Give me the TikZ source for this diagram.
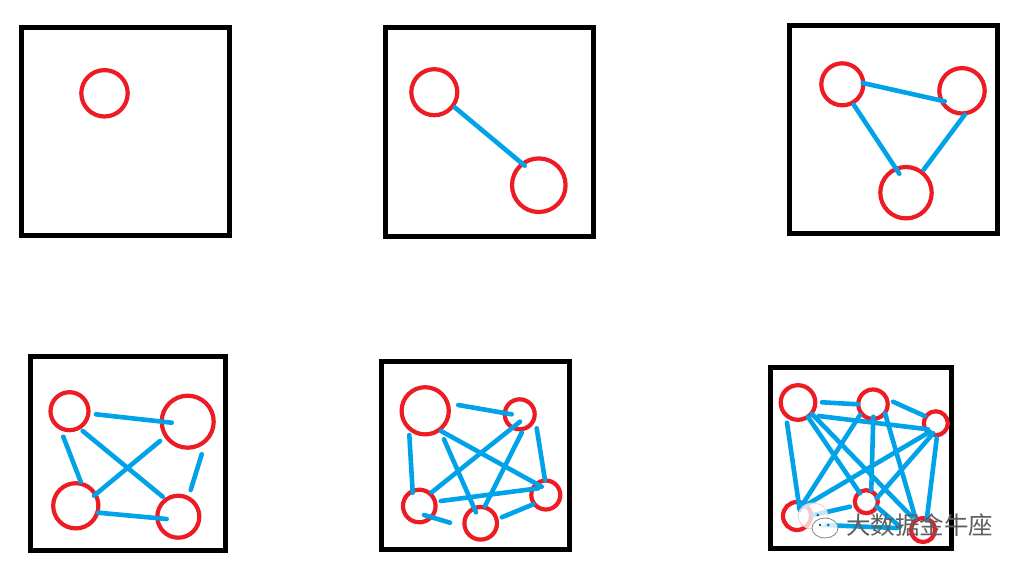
\documentclass[tikz,border=0pt]{standalone}
\usepackage{fontspec}
\newfontfamily\cjkfont{Noto Sans CJK SC}
\definecolor{nodered}{RGB}{237,28,36}
\definecolor{edgeblue}{RGB}{0,162,232}
\definecolor{wmgray}{RGB}{95,95,95}
\tikzset{
  panel/.style={draw=black, line width=5pt},
  vtx/.style={circle, draw=nodered, line width=4.2pt, inner sep=0pt, minimum size=#1},
  link/.style={draw=edgeblue, line width=4.6pt, line cap=round},
}
\newcommand\lk[4]{\draw[link] ([shift={(#2)}]#1.center) -- ([shift={(#4)}]#3.center);}
\begin{document}
\begin{tikzpicture}[x=1pt,y=-1pt]
\useasboundingbox[fill=white] (0,0) rectangle (1028,571);

% ---------- panels ----------
\draw[panel] (21.7,27.5) rectangle (229.7,235.8);
\draw[panel] (385.5,27.5) rectangle (593.8,236.8);
\draw[panel] (789.5,25.5) rectangle (997.8,233.8);
\draw[panel] (30,356) rectangle (225,550);
\draw[panel] (381.5,361) rectangle (569,549);
\draw[panel] (770,367) rectangle (951,548);

% ---------- panel 1 ----------
\node[vtx=46.4pt] (p1a) at (104.5,93.3) {};

% ---------- panel 2 ----------
\node[vtx=46pt] (p2a) at (434.3,92.2) {};
\node[vtx=53.6pt] (p2b) at (538.8,185.2) {};
\lk{p2a}{20.4,15.1}{p2b}{-14.1,-19.5}

% ---------- panel 3 ----------
\node[vtx=42pt] (p3a) at (842.3,84.3) {};
\node[vtx=45.4pt] (p3b) at (962,90.8) {};
\node[vtx=51.4pt] (p3c) at (906,192.7) {};
\lk{p3a}{20.4,-1.3}{p3b}{-17.3,10.5}
\lk{p3a}{11.4,20.4}{p3c}{-6.7,-19}
\lk{p3b}{2.7,23.9}{p3c}{17.7,-23}

% ---------- panel 4 ----------
\node[vtx=38pt] (p4a) at (69.5,411.2) {};
\node[vtx=52pt] (p4b) at (187.7,421.7) {};
\node[vtx=45.2pt] (p4c) at (75.8,505.8) {};
\node[vtx=42pt] (p4d) at (178.3,516.7) {};
\lk{p4a}{26.5,3.1}{p4b}{-16,1}
\lk{p4a}{-6.2,25.5}{p4c}{4.9,-24.1}
\lk{p4a}{13.2,19.8}{p4d}{-15.6,-20}
\lk{p4b}{-27.7,19.3}{p4c}{18.2,-10.1}
\lk{p4b}{14,32.6}{p4d}{12.4,-26.7}
\lk{p4c}{22.5,6.9}{p4d}{-11.6,2.3}

% ---------- panel 5 ----------
\node[vtx=47.2pt] (p5p) at (425.2,410.8) {};
\node[vtx=30pt] (p5q) at (519.7,414.3) {};
\node[vtx=29pt] (p5r) at (545.8,495) {};
\node[vtx=32.6pt] (p5s) at (419.3,506) {};
\node[vtx=32.6pt] (p5t) at (480.7,523.3) {};
\lk{p5p}{33.1,-5.8}{p5q}{-8,0}
\lk{p5p}{-15.9,24.2}{p5s}{-6.6,-13.3}
\lk{p5p}{15.8,20.2}{p5r}{-4.1,-8.3}
\lk{p5p}{18.8,28.5}{p5t}{-4.7,-11}
\lk{p5q}{0.3,7.4}{p5s}{12.4,-13.7}
\lk{p5q}{2,18.4}{p5t}{4.3,-17.3}
\lk{p5q}{17,14}{p5r}{-0.8,-15}
\lk{p5s}{21.4,-5}{p5r}{-7.5,-6.7}
\lk{p5s}{4.7,9}{p5t}{-30.7,-0.6}
\lk{p5t}{21,-6}{p5r}{-12.5,9.3}

% ---------- panel 6 ----------
\node[vtx=34.6pt] (p6a) at (798,402.5) {};
\node[vtx=29.4pt] (p6b) at (873,404.2) {};
\node[vtx=24pt] (p6c) at (935.8,423.3) {};
\node[vtx=23pt] (p6d) at (866.3,501.7) {};
\node[vtx=28pt] (p6e) at (797,516) {};
\node[vtx=24pt] (p6f) at (923,530) {};
\lk{p6a}{24,-0.2}{p6b}{-15,0.1}
\lk{p6b}{20,-2.5}{p6c}{-11.1,-7.3}
\lk{p6a}{20.7,13.5}{p6c}{-7.8,6}
\lk{p6a}{-11,20.2}{p6e}{2.7,-6}
\lk{p6a}{10,14.5}{p6d}{-6.3,-8.4}
\lk{p6a}{14,11.5}{p6f}{-11.3,-13.3}
\lk{p6b}{-13,10.8}{p6e}{3,-7.7}
\lk{p6b}{0.3,12.5}{p6d}{5,-11.7}
\lk{p6b}{12,9}{p6f}{-8,-13.3}
\lk{p6c}{-5.8,8.4}{p6e}{6.3,-9.3}
\lk{p6c}{-2.5,10}{p6d}{10.4,-3.4}
\lk{p6c}{0.9,15}{p6f}{3.7,-10}
\lk{p6d}{-16.3,5}{p6e}{16.3,-1}
\lk{p6e}{26,9}{p6f}{-26,-2}
\lk{p6d}{10.4,5}{p6f}{-23,-3.3}

% ---------- watermark ----------
\fill[white, fill opacity=0.75] (813,516) ellipse [x radius=15pt, y radius=13pt];
\draw[nodered!25, line width=0.8pt] (813,516) ellipse [x radius=15pt, y radius=13pt];
\fill[white, fill opacity=0.8] (825,528) ellipse [x radius=13pt, y radius=10pt];
\draw[wmgray!70, line width=0.9pt] (825,528) ellipse [x radius=13pt, y radius=10pt];
\fill[edgeblue!60!black] (817.7,515) circle (1.4pt) (820,525) circle (1.4pt) (828.3,525) circle (1.4pt);
\node[text=wmgray, font=\cjkfont\fontsize{24.5}{24.5}\selectfont, anchor=west, inner sep=0pt] (wm) at (846,525) {大数据金牛座};
\end{tikzpicture}
\end{document}
